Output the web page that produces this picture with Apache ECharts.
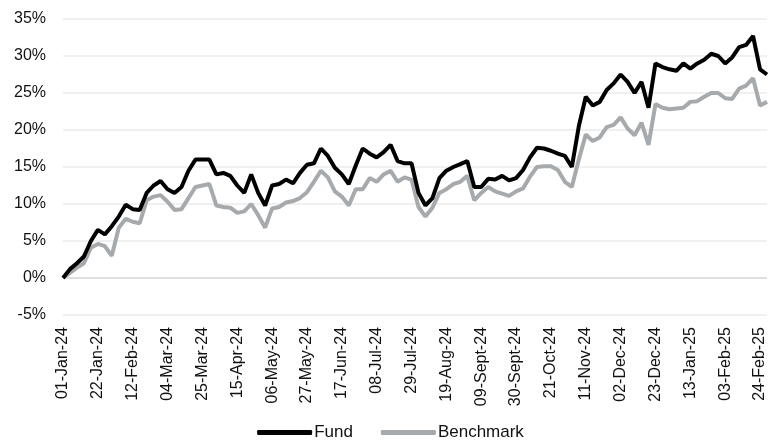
<!DOCTYPE html>
<html lang="en">
<head>
    <meta charset="UTF-8">
    <title>Fund vs Benchmark</title>
    <script src="https://cdn.jsdelivr.net/npm/echarts@6/dist/echarts.min.js"></script>
    <style>
        html, body { margin: 0; padding: 0; background: #fff; }
        #main { width: 781px; height: 443px; }
    </style>
</head>
<body>
<div id="main"></div>
<script type="text/javascript">
    // cumulative return in %, one point every 3 business days from 01-Jan-24
    var fundReturns = [
        0, 1.2, 2.0, 2.9, 5.0, 6.5, 5.9, 7.0, 8.3, 9.9,
        9.3, 9.2, 11.5, 12.5, 13.1, 12.0, 11.5, 12.3, 14.5, 16.0,
        16.0, 16.0, 14.0, 14.2, 13.8, 12.5, 11.5, 14.0, 11.5, 9.8,
        12.5, 12.7, 13.3, 12.8, 14.2, 15.3, 15.5, 17.5, 16.5, 14.9,
        14.0, 12.7, 15.2, 17.5, 16.8, 16.3, 17.0, 18.0, 15.8, 15.5,
        15.5, 11.5, 9.8, 10.8, 13.5, 14.5, 15.0, 15.4, 15.8, 12.3,
        12.3, 13.4, 13.3, 13.8, 13.2, 13.5, 14.6, 16.3, 17.6, 17.5,
        17.2, 16.8, 16.5, 15.0, 20.5, 24.5, 23.3, 23.8, 25.4, 26.3,
        27.5, 26.5, 25.0, 26.5, 23.0, 29.0, 28.5, 28.2, 28.0, 29.0,
        28.3, 29.0, 29.5, 30.3, 30.0, 29.0, 29.8, 31.2, 31.5, 32.7,
        28.2, 27.5
    ];
    var benchmarkReturns = [
        0, 0.7, 1.4, 2.0, 4.1, 4.6, 4.3, 3.0, 6.8, 8.0,
        7.6, 7.4, 10.5, 11.0, 11.2, 10.3, 9.2, 9.3, 10.8, 12.3,
        12.5, 12.7, 9.8, 9.6, 9.5, 8.8, 9.0, 10.0, 8.5, 6.8,
        9.4, 9.6, 10.2, 10.4, 10.8, 11.6, 13.0, 14.5, 13.6, 11.7,
        11.0, 9.8, 12.0, 12.0, 13.5, 13.0, 14.0, 14.5, 13.0, 13.6,
        13.3, 9.6, 8.3, 9.5, 11.5, 12.0, 12.7, 13.0, 13.8, 10.5,
        11.5, 12.3, 11.7, 11.4, 11.1, 11.7, 12.1, 13.7, 15.0, 15.1,
        15.1, 14.6, 13.0, 12.3, 16.0, 19.4, 18.5, 19.0, 20.4, 20.7,
        21.7, 20.2, 19.3, 21.0, 18.0, 23.5, 23.0, 22.8, 22.9, 23.0,
        23.8, 23.9, 24.5, 25.0, 25.0, 24.3, 24.2, 25.6, 26.0, 27.0,
        23.3, 23.8
    ];
    var monthNames = ['Jan', 'Feb', 'Mar', 'Apr', 'May', 'Jun', 'Jul', 'Aug', 'Sept', 'Oct', 'Nov', 'Dec'];
    var yTicks = [-5, 35, 5];

    // date labels, every 3rd business day
    var dates = [];
    var d = new Date(Date.UTC(2024, 0, 1));
    for (var i = 0; i < fundReturns.length; i++) {
        var dd = ('0' + d.getUTCDate()).slice(-2);
        dates.push(dd + '-' + monthNames[d.getUTCMonth()] + '-' + String(d.getUTCFullYear()).slice(2));
        var n = 0;
        while (n < 3) {
            d.setUTCDate(d.getUTCDate() + 1);
            if (d.getUTCDay() !== 0 && d.getUTCDay() !== 6) n++;
        }
    }

    var font = "'Liberation Sans', Arial, sans-serif";
    var gridColors = [];
    for (var v = yTicks[0]; v <= yTicks[1]; v += yTicks[2]) {
        gridColors.push(v === 0 ? '#d4d4d4' : '#ebebeb');
    }

    var myChart = echarts.init(document.getElementById('main'));
    var option = {
        animation: false,
        textStyle: {fontFamily: font},
        grid: {left: 63, right: 14, top: 19, bottom: 128},
        legend: {
            data: ['Fund', 'Benchmark'],
            top: 424,
            left: 'center',
            padding: 0,
            icon: 'roundRect',
            itemWidth: 55,
            itemHeight: 5,
            itemGap: 28,
            textStyle: {fontSize: 17, color: '#111', fontFamily: font, padding: [0, 0, 0, -3]}
        },
        xAxis: {
            type: 'category',
            data: dates,
            boundaryGap: false,
            axisLine: {show: false},
            axisTick: {show: false},
            axisLabel: {
                interval: 4,
                rotate: 90,
                margin: 12,
                fontSize: 16,
                color: '#111',
                fontFamily: font
            }
        },
        yAxis: {
            type: 'value',
            min: yTicks[0],
            max: yTicks[1],
            interval: yTicks[2],
            axisLine: {show: false},
            axisTick: {show: false},
            axisLabel: {
                formatter: '{value}%',
                margin: 17,
                fontSize: 16,
                color: '#111',
                fontFamily: font
            },
            splitLine: {lineStyle: {color: gridColors, width: 1.5}}
        },
        series: [
            {
                name: 'Benchmark',
                type: 'line',
                data: benchmarkReturns,
                symbol: 'none',
                z: 2,
                lineStyle: {color: '#a6aaad', width: 4},
                itemStyle: {color: '#a6aaad'}
            },
            {
                name: 'Fund',
                type: 'line',
                data: fundReturns,
                symbol: 'none',
                z: 3,
                lineStyle: {color: '#000', width: 4},
                itemStyle: {color: '#000'}
            }
        ]
    };
    myChart.setOption(option);
</script>
</body>
</html>
